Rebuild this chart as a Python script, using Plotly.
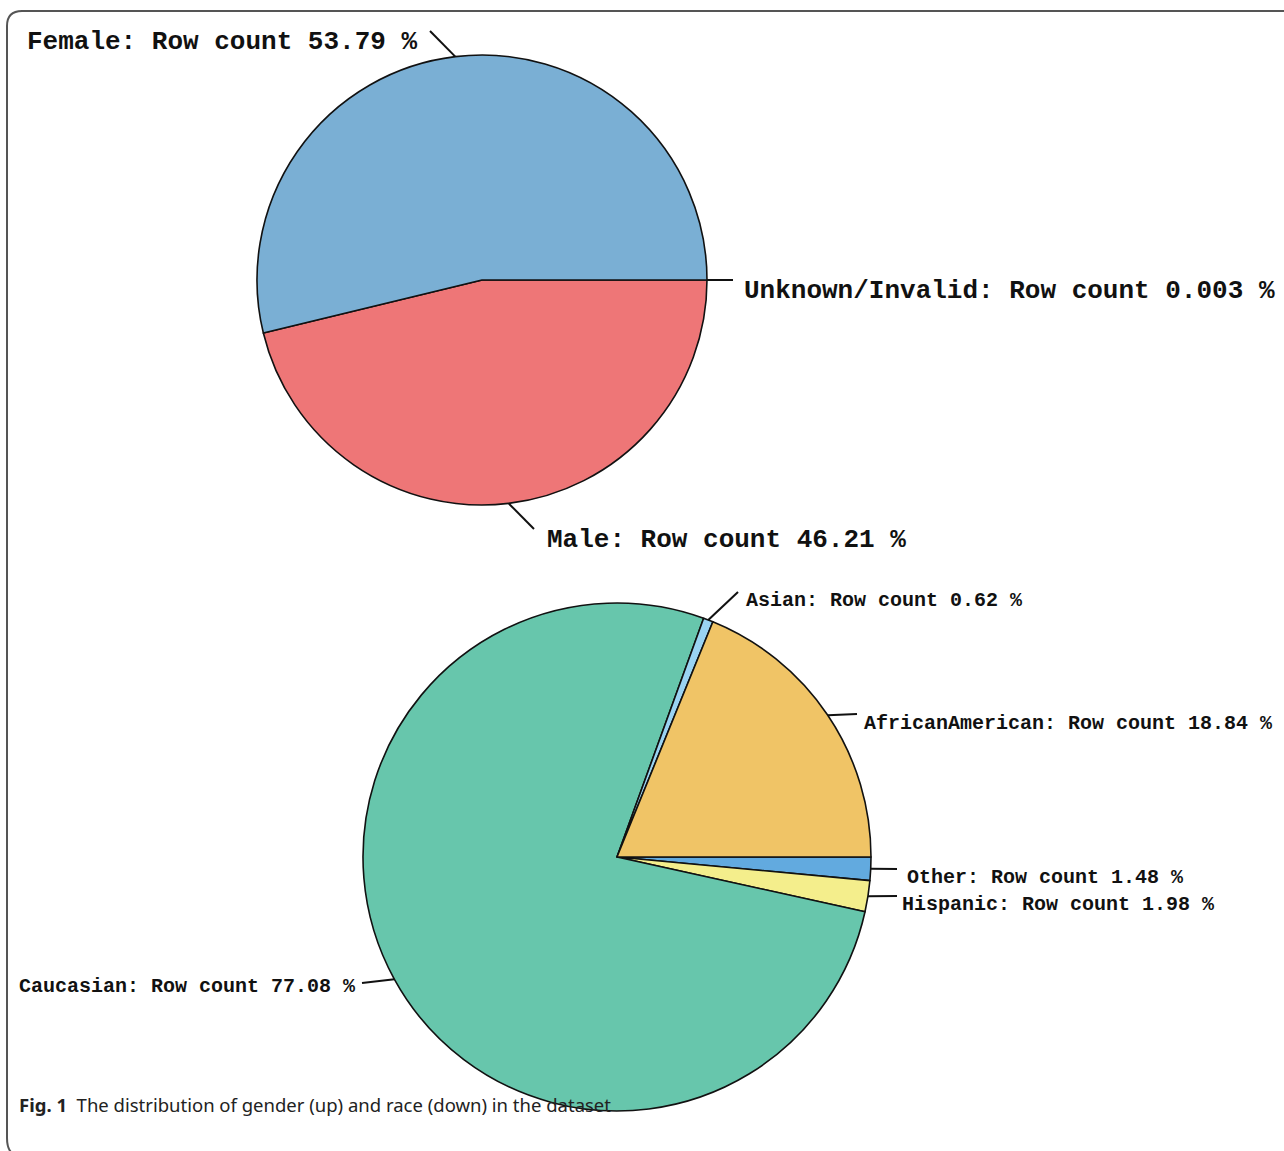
import math
import plotly.graph_objects as go

W, H = 1284, 1151

# Gender distribution (row count %)
gender_labels = ["Female", "Male", "Unknown/Invalid"]
gender_values = [53.79, 46.21, 0.003]
gender_value_text = ["53.79", "46.21", "0.003"]
gender_colors = ["#7AAFD4", "#EE7677", "#EE7677"]

# Race distribution (row count %)
race_labels = ["AfricanAmerican", "Asian", "Caucasian", "Hispanic", "Other"]
race_values = [18.84, 0.62, 77.08, 1.98, 1.48]
race_value_text = ["18.84", "0.62", "77.08", "1.98", "1.48"]
race_colors = ["#F0C466", "#9AD3F2", "#67C6AC", "#F4EE8C", "#62AADF"]

caption_bold = "Fig. 1"
caption_text = "The distribution of gender (up) and race (down) in the dataset"


def fx(x):
    return x / W


def fy(y):
    return 1 - y / H


# pie placement in pixels: centre and radius
TOP = dict(cx=482, cy=280, r=225)
BOT = dict(cx=617, cy=857, r=254)

# label placement: (elbow x, elbow y, text x, text y, anchor)
gender_label_pos = {
    "Female": (430, 31, 419, 42, "right"),
    "Male": (534, 529, 545, 540, "left"),
    "Unknown/Invalid": (733, 280, 742, 291, "left"),
}
race_label_pos = {
    "AfricanAmerican": (857, 714, 862, 723, "left"),
    "Asian": (738, 592, 744, 600, "left"),
    "Caucasian": (362, 983, 358, 986, "right"),
    "Hispanic": (897, 896, 900, 904, "left"),
    "Other": (897, 869, 905, 877, "left"),
}


def mid_angles(values):
    # slices run counterclockwise from 3 o'clock
    total = sum(values)
    out, acc = [], 0.0
    for v in values:
        a = v / total * 360.0
        out.append(acc + a / 2)
        acc += a
    return out


fig = go.Figure()

# plotly lays slices clockwise from 3 o'clock, so feed them in reverse to get
# the counterclockwise order starting at 3 o'clock
for geo, labels, values, colors in [
    (TOP, gender_labels, gender_values, gender_colors),
    (BOT, race_labels, race_values, race_colors),
]:
    fig.add_trace(go.Pie(
        labels=labels[::-1],
        values=values[::-1],
        marker=dict(colors=colors[::-1], line=dict(color="#111111", width=1.6)),
        sort=False,
        direction="clockwise",
        rotation=90,
        textinfo="none",
        hoverinfo="label+percent",
        showlegend=False,
        domain=dict(
            x=[fx(geo["cx"] - geo["r"]), fx(geo["cx"] + geo["r"])],
            y=[fy(geo["cy"] + geo["r"]), fy(geo["cy"] - geo["r"])],
        ),
    ))

shapes = []
annotations = []

for geo, labels, values, vtext, pos, size in [
    (TOP, gender_labels, gender_values, gender_value_text, gender_label_pos, 26),
    (BOT, race_labels, race_values, race_value_text, race_label_pos, 20),
]:
    for lab, ang, vt in zip(labels, mid_angles(values), vtext):
        ex = geo["cx"] + geo["r"] * math.cos(math.radians(ang))
        ey = geo["cy"] - geo["r"] * math.sin(math.radians(ang))
        lx, ly, tx, ty, anchor = pos[lab]
        shapes.append(dict(
            type="line", xref="paper", yref="paper",
            x0=fx(ex), y0=fy(ey), x1=fx(lx), y1=fy(ly),
            line=dict(color="#111111", width=2),
        ))
        annotations.append(dict(
            x=fx(tx), y=fy(ty), xref="paper", yref="paper",
            xanchor=anchor, yanchor="middle", showarrow=False,
            text=f"{lab}: Row count {vt} %",
            font=dict(family="Liberation Mono", size=size, color="#111111",
                      weight="bold"),
        ))

# caption
annotations.append(dict(
    x=fx(17), y=fy(1104), xref="paper", yref="paper",
    xanchor="left", yanchor="middle", showarrow=False,
    text=f"<b>{caption_bold}</b>  {caption_text}",
    font=dict(family="Noto Sans", size=18.5, color="#222222"),
))

# frame with rounded left corners
frame = (
    f"M {fx(W + 5)},{fy(11)} L {fx(22)},{fy(11)} "
    f"Q {fx(7)},{fy(11)} {fx(7)},{fy(26)} "
    f"L {fx(7)},{fy(1138)} Q {fx(7)},{fy(1149)} {fx(12)},{fy(1153)}"
)
shapes.append(dict(
    type="path", xref="paper", yref="paper", path=frame,
    line=dict(color="#555555", width=2),
))

fig.update_layout(
    width=W, height=H,
    margin=dict(l=0, r=0, t=0, b=0),
    paper_bgcolor="white", plot_bgcolor="white",
    shapes=shapes, annotations=annotations,
)

fig.write_html("out.html")
